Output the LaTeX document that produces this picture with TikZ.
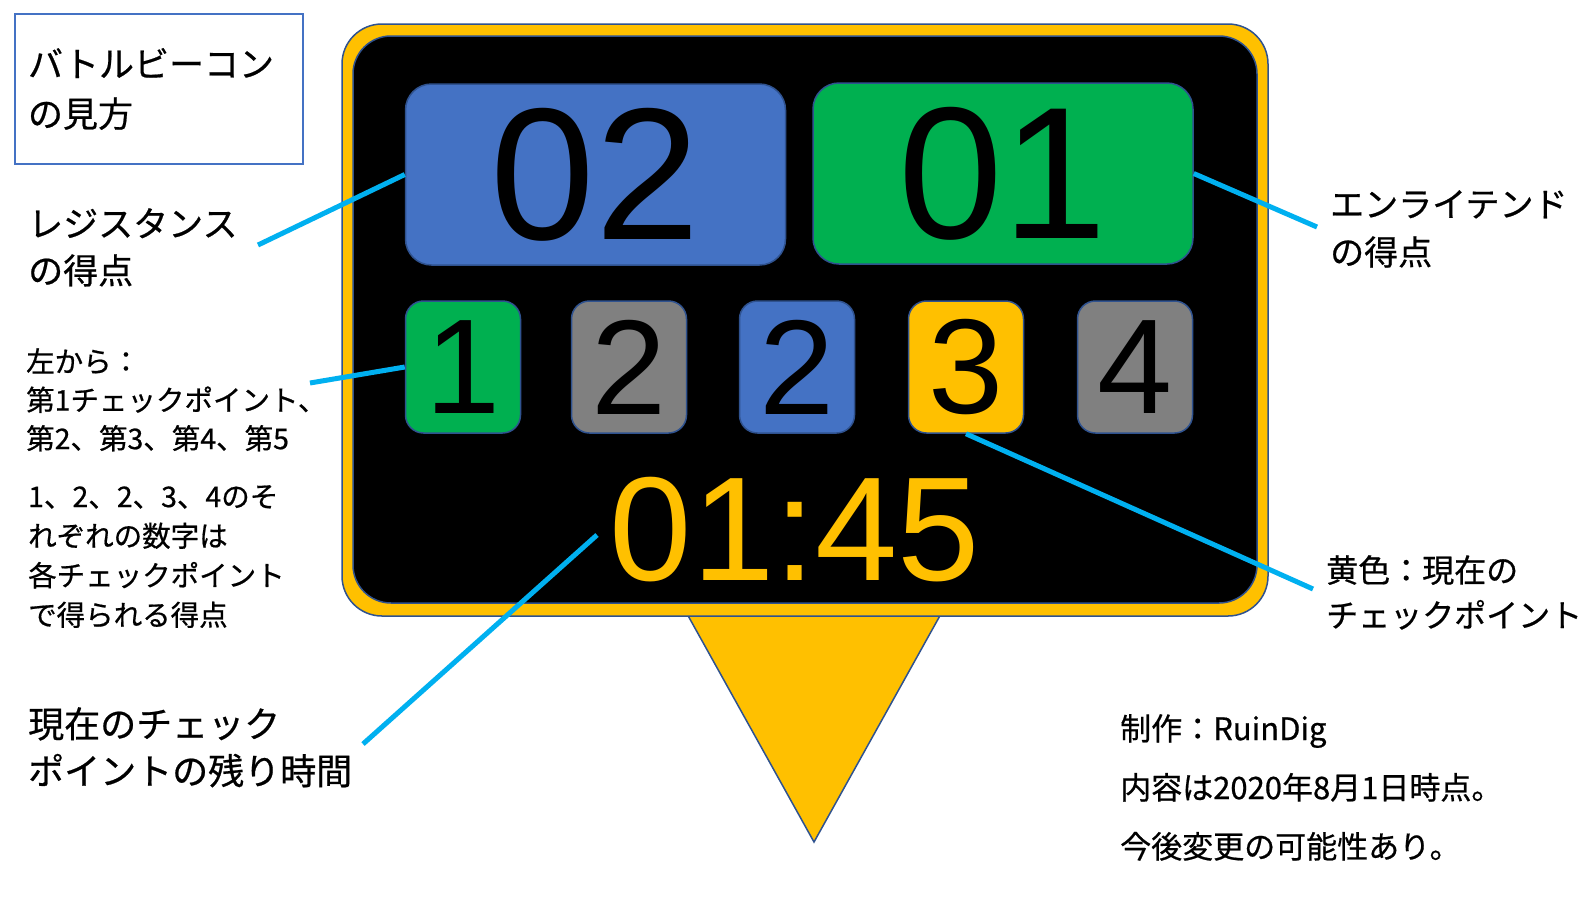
\documentclass[tikz,border=0pt]{standalone}
\usepackage{fontspec}
\newfontfamily\jp{Noto Sans CJK JP}[FakeBold=0.6]
\newfontfamily\ars{Liberation Sans}
\definecolor{yel}{HTML}{FFC000}
\definecolor{bluebox}{HTML}{4472C4}
\definecolor{greenbox}{HTML}{00B050}
\definecolor{graybox}{HTML}{808080}
\definecolor{edge}{HTML}{2F528F}
\definecolor{cyanl}{HTML}{00B0F0}
\tikzset{
  lbl/.style={anchor=north west, inner sep=0pt, align=left},
  scorebox/.style={draw=edge, line width=1.5pt, rounded corners=26pt, minimum width=380pt, minimum height=181pt, inner sep=0pt, text=black, font=\ars\fontsize{188}{188}\selectfont},
  cpbox/.style={draw=edge, line width=1.5pt, rounded corners=18pt, minimum width=115pt, minimum height=132pt, inner sep=0pt, text=black, font=\ars\fontsize{135}{135}\selectfont},
  conn/.style={draw=cyanl, line width=5pt},
}
\begin{document}
\begin{tikzpicture}[x=1pt,y=-1pt]
\useasboundingbox (0,0) rectangle (1596,898);
\fill[white] (0,0) rectangle (1596,898);

% title box
\node[draw=bluebox, line width=2pt, minimum width=288pt, minimum height=150pt, text width=262pt, align=left, inner sep=0pt, font=\jp\fontsize{35}{50}\selectfont] (title) at (159,89) {バトルビーコン\\の見方};

% beacon body
\draw[fill=yel, draw=edge, line width=1.5pt] (686,612) -- (942,612) -- (814,842) -- cycle;
\draw[fill=yel, draw=edge, line width=1.5pt, rounded corners=40pt] (342,24) rectangle (1268,616);
\draw[fill=black, draw=edge, line width=1.5pt, rounded corners=38pt] (353,36) rectangle (1257,603);

% score boxes
\node[scorebox, fill=bluebox] (blue) at (595.5,174.5) {02};
\node[scorebox, fill=greenbox] (green) at (1003,173.5) {01};

% checkpoint boxes
\node[cpbox, fill=greenbox] (cp1) at (463,367) {1};
\node[cpbox, fill=graybox] (cp2) at (629,367) {2};
\node[cpbox, fill=bluebox] (cp3) at (797,367) {2};
\node[cpbox, fill=yel] (cp4) at (966,367) {3};
\node[cpbox, fill=graybox] (cp5) at (1135,367) {4};

% timer
\node[anchor=base, inner sep=0pt, text=yel, font=\ars\fontsize{148}{148}\selectfont] (timer) at (795,580) {01:45};

% labels
\node[lbl, font=\jp\fontsize{35}{47}\selectfont] (res) at (28,208) {レジスタンス\\の得点};
\node[lbl, font=\jp\fontsize{34}{48}\selectfont] (enl) at (1330,190) {エンライテンド\\の得点};
\node[lbl, font=\jp\fontsize{28.5}{38.5}\selectfont] (order) at (26,348) {左から：\\第1チェックポイント、\\第2、第3、第4、第5};
\node[lbl, font=\jp\fontsize{28.5}{39.5}\selectfont] (pts) at (28,485) {1、2、2、3、4のそ\\れぞれの数字は\\各チェックポイント\\で得られる得点};
\node[lbl, font=\jp\fontsize{36}{47}\selectfont] (rem) at (28,707) {現在のチェック\\ポイントの残り時間};
\node[lbl, font=\jp\fontsize{32}{45}\selectfont] (cur) at (1326,555) {黄色：現在の\\チェックポイント};
\node[lbl, font=\jp\fontsize{31}{59}\selectfont] (credit) at (1120,714) {制作：RuinDig\\内容は2020年8月1日時点。\\今後変更の可能性あり。};

% connector free ends
\coordinate (resEnd) at (258,245);
\coordinate (enlEnd) at (1317,227);
\coordinate (ordEnd) at (310,383);
\coordinate (curEnd) at (1313,589);
\coordinate (timStart) at (597,535);
\coordinate (remEnd) at (363,744);

% connectors
\draw[conn] (resEnd) -- (blue.west);
\draw[conn] (green.east) -- (enlEnd);
\draw[conn] (ordEnd) -- (cp1.west);
\draw[conn] (cp4.south) -- (curEnd);
\draw[conn] (timStart) -- (remEnd);
\end{tikzpicture}
\end{document}
